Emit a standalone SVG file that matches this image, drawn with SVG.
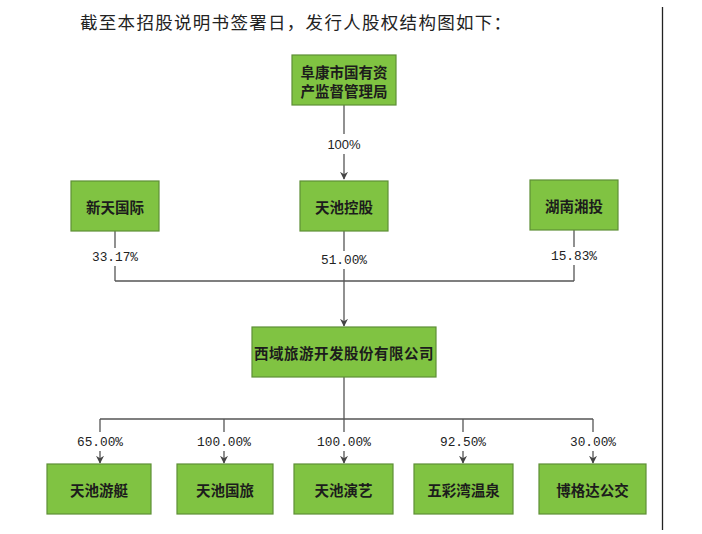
<svg xmlns="http://www.w3.org/2000/svg" width="702" height="534" viewBox="0 0 702 534">
<style>
.box{fill:#80c342;stroke:#5e8f36;stroke-width:1.2}
.nt{font-family:"Noto Sans CJK SC","Liberation Sans",sans-serif;font-size:14.5px;font-weight:bold;fill:#1c1c1c;text-anchor:middle;dominant-baseline:central}
.pct{font-family:"Liberation Mono",monospace;font-size:12.8px;fill:#222;text-anchor:middle;dominant-baseline:central}
.pcts{font-family:"Liberation Sans",sans-serif;font-size:13px;fill:#222;text-anchor:middle;dominant-baseline:central}
.ln{stroke:#555;stroke-width:1.3;fill:none}
.title{font-family:"Noto Sans CJK SC",sans-serif;font-size:17.5px;fill:#222;letter-spacing:1.3px}
</style>
<defs>
<marker id="arr" viewBox="0 0 10 10" refX="9" refY="5" markerWidth="8" markerHeight="8" markerUnits="userSpaceOnUse" orient="auto">
<path d="M0,0 L10,5 L0,10 L3,5 Z" fill="#444"/>
</marker>
</defs>
<rect width="702" height="534" fill="#fff"/>
<text class="title" x="80" y="29">截至本招股说明书签署日，发行人股权结构图如下：</text>
<line x1="662.5" y1="7" x2="662.5" y2="530" stroke="#222" stroke-width="1.3"/>
<g id="connectors">
<line class="ln" x1="344" y1="105" x2="344" y2="134"/>
<line class="ln" x1="344" y1="154" x2="344" y2="179" marker-end="url(#arr)"/>
<line class="ln" x1="115" y1="231" x2="115" y2="248"/>
<line class="ln" x1="115" y1="266" x2="115" y2="281"/>
<line class="ln" x1="344" y1="231" x2="344" y2="251"/>
<line class="ln" x1="344" y1="269" x2="344" y2="326" marker-end="url(#arr)"/>
<line class="ln" x1="574" y1="230" x2="574" y2="247"/>
<line class="ln" x1="574" y1="265" x2="574" y2="281"/>
<line class="ln" x1="115" y1="281" x2="574" y2="281"/>
<line class="ln" x1="344" y1="377" x2="344" y2="432"/>
<line class="ln" x1="100" y1="419" x2="593" y2="419"/>
<line class="ln" x1="100" y1="419" x2="100" y2="432"/>
<line class="ln" x1="224" y1="419" x2="224" y2="432"/>
<line class="ln" x1="463" y1="419" x2="463" y2="432"/>
<line class="ln" x1="593" y1="419" x2="593" y2="432"/>
<line class="ln" x1="100" y1="451" x2="100" y2="463" marker-end="url(#arr)"/>
<line class="ln" x1="224" y1="451" x2="224" y2="463" marker-end="url(#arr)"/>
<line class="ln" x1="344" y1="451" x2="344" y2="463" marker-end="url(#arr)"/>
<line class="ln" x1="463" y1="451" x2="463" y2="463" marker-end="url(#arr)"/>
<line class="ln" x1="593" y1="451" x2="593" y2="463" marker-end="url(#arr)"/>
<text class="pcts" x="344" y="144">100%</text>
<text class="pct" x="115" y="257">33.17%</text>
<text class="pct" x="344" y="260">51.00%</text>
<text class="pct" x="574" y="256">15.83%</text>
<text class="pct" x="100" y="442">65.00%</text>
<text class="pct" x="224" y="442">100.00%</text>
<text class="pct" x="344" y="442">100.00%</text>
<text class="pct" x="463" y="442">92.50%</text>
<text class="pct" x="593" y="442">30.00%</text>
</g>
<g id="n-fukang"><rect class="box" x="292" y="55" width="104" height="50"/><text class="nt" x="344" y="71">阜康市国有资</text><text class="nt" x="344" y="90">产监督管理局</text></g>
<g id="n-xintian"><rect class="box" x="71" y="181" width="88" height="50"/><text class="nt" x="115" y="206">新天国际</text></g>
<g id="n-tianchi"><rect class="box" x="300" y="181" width="88" height="50"/><text class="nt" x="344" y="206">天池控股</text></g>
<g id="n-hunan"><rect class="box" x="530" y="180" width="88" height="50"/><text class="nt" x="574" y="205">湖南湘投</text></g>
<g id="n-xiyu"><rect class="box" x="252" y="327" width="184" height="50"/><text class="nt" x="344" y="352" letter-spacing="0.5">西域旅游开发股份有限公司</text></g>
<g id="n-youting"><rect class="box" x="47" y="464" width="104" height="50"/><text class="nt" x="99" y="489">天池游艇</text></g>
<g id="n-guolv"><rect class="box" x="177" y="464" width="96" height="50"/><text class="nt" x="225" y="489">天池国旅</text></g>
<g id="n-yanyi"><rect class="box" x="294" y="464" width="99" height="50"/><text class="nt" x="343.5" y="489">天池演艺</text></g>
<g id="n-wucai"><rect class="box" x="414" y="464" width="99" height="50"/><text class="nt" x="463.5" y="489">五彩湾温泉</text></g>
<g id="n-bogeda"><rect class="box" x="539" y="464" width="107" height="50"/><text class="nt" x="592.5" y="489">博格达公交</text></g>
</svg>
